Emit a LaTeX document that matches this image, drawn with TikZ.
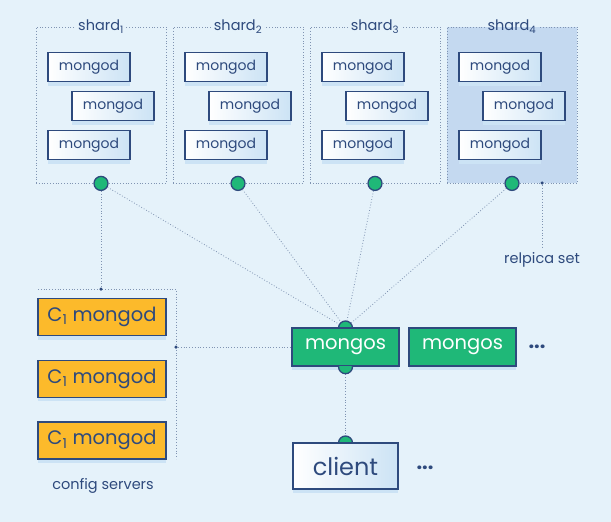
\documentclass[tikz,border=0pt]{standalone}
\usepackage{fontspec}
\setmainfont{Poppins}
\usetikzlibrary{shapes, shadows, calc, positioning}
\definecolor{mdbnavy}{rgb}{0.18, 0.29, 0.49}
\definecolor{mdbgreen}{rgb}{0.12, 0.72, 0.47}
\definecolor{mdborange}{rgb}{0.99, 0.73, 0.17}
\definecolor{mdbback}{rgb}{0.90, 0.95, 0.98}
\definecolor{mdbshade}{rgb}{0.77, 0.85, 0.94}
\definecolor{mdbpale}{rgb}{0.80, 0.89, 0.96}
\definecolor{mdbdot}{rgb}{0.50, 0.58, 0.70}
\pgfdeclarelayer{bg}
\pgfsetlayers{bg,main}

\begin{document}
\begin{tikzpicture}[x=1pt, y=-1pt, every node/.style={text=mdbnavy},
        link/.style={draw=mdbdot, dotted, line width=0.8pt},
        shardbox/.style={draw=mdbdot, dotted, line width=0.8pt, minimum width=130pt, minimum height=156pt},
        boxshadow/.style={drop shadow={shadow xshift=0pt, shadow yshift=-4pt, fill=mdbpale, opacity=1}},
        mongodbox/.style={draw=mdbnavy, line width=1.4pt, left color=white, right color=mdbpale, boxshadow,
            minimum width=82pt, minimum height=29pt, inner sep=0pt, font=\fontsize{14}{14}\selectfont},
        cfgbox/.style={draw=mdbnavy, line width=1.4pt, fill=mdborange, boxshadow,
            minimum width=128pt, minimum height=37pt, inner sep=0pt, font=\fontsize{19.5}{19.5}\selectfont},
        mongosbox/.style={draw=mdbnavy, line width=1.4pt, fill=mdbgreen, text=white, boxshadow,
            minimum width=107pt, minimum height=38pt, inner sep=0pt, font=\fontsize{19.5}{19.5}\selectfont},
        clientbox/.style={draw=mdbnavy, line width=1.4pt, left color=white, right color=mdbpale, boxshadow,
            minimum width=105pt, minimum height=46pt, inner sep=0pt, font=\fontsize{24}{24}\selectfont},
        bigdot/.style={draw=mdbnavy, fill=mdbgreen, circle, line width=1.3pt, minimum size=14pt, inner sep=0pt},
        bump/.style={draw=mdbnavy, fill=mdbgreen, circle, line width=1.3pt, minimum size=14pt, inner sep=0pt},
        smalldot/.style={fill=mdbnavy, circle, minimum size=3.5pt, inner sep=0pt},
        moredots/.style={font=\fontsize{20}{20}\selectfont\bfseries},
        caption/.style={font=\fontsize{14.5}{14.5}\selectfont}]
    \useasboundingbox (0,0) rectangle (611,522);
    \begin{pgfonlayer}{bg}
        \fill[mdbback] (0,0) rectangle (611,522);
    \end{pgfonlayer}

    % shards
    \foreach \n [evaluate=\n as \x using {101+137*(\n-1)}] in {1, ..., 4}{
        \ifnum\n=4 \def\sfill{mdbshade}\else\def\sfill{mdbback}\fi
        \node[shardbox, fill=\sfill] (S\n) at (\x,105) {};
        \node[caption, fill=mdbback, inner sep=2pt,
            path picture={\fill[\sfill] (path picture bounding box.west) rectangle (path picture bounding box.south east);}]
            (L\n) at (S\n.north) {shard\textsubscript{\n}};
        \node[mongodbox] (D\n a) at (\x-12,67) {mongod};
        \node[mongodbox] (D\n b) at (\x+12,106) {mongod};
        \node[mongodbox] (D\n c) at (\x-12,145) {mongod};
        \node[bigdot] (P\n) at (S\n.south) {};
    }

    % replica set note
    \node[smalldot] (R) at (542,183) {};
    \node[caption] (RL) at (542,260) {relpica set};

    % config servers
    \foreach \n [evaluate=\n as \y using {317+61.7*(\n-1)}] in {1, 2, 3}{
        \node[cfgbox] (C\n) at (102,\y) {C\textsubscript{1} mongod};
    }
    \node[caption] (CL) at (103,486) {config servers};
    \coordinate (CA) at (38,289);
    \coordinate (CB) at (176,289);
    \coordinate (CC) at (176,459);
    \node[smalldot] (CT) at (101,289) {};
    \node[smalldot] (CR) at (176,347) {};

    % mongos and client
    \node[bump] (MT) at (345.5,328) {};
    \node[mongosbox] (M1) at (345.5,347) {mongos};
    \node[mongosbox] (M2) at (462.5,347) {mongos};
    \node[moredots] (MD) at (537,347) {...};
    \begin{scope}
        \clip (M1.south west) rectangle ($(M1.south east)+(0,10)$);
        \node[bump] (MB) at (M1.south) {};
    \end{scope}
    \node[bump] (KT) at (345.5,443) {};
    \node[clientbox] (K) at (345.5,466) {client};
    \node[moredots] (KD) at (425,468) {...};

    \begin{pgfonlayer}{bg}
        \foreach \n in {1, ..., 4}{
            \draw[link] (P\n) -- (MT);
        }
        \draw[link] (R) -- (RL);
        \draw[link] (P1) -- (CT);
        \draw[link] (CA) -- (CB) -- (CC);
        \draw[link] (CR) -- (M1);
        \draw[link] (MB) -- (KT);
    \end{pgfonlayer}
\end{tikzpicture}
\end{document}
